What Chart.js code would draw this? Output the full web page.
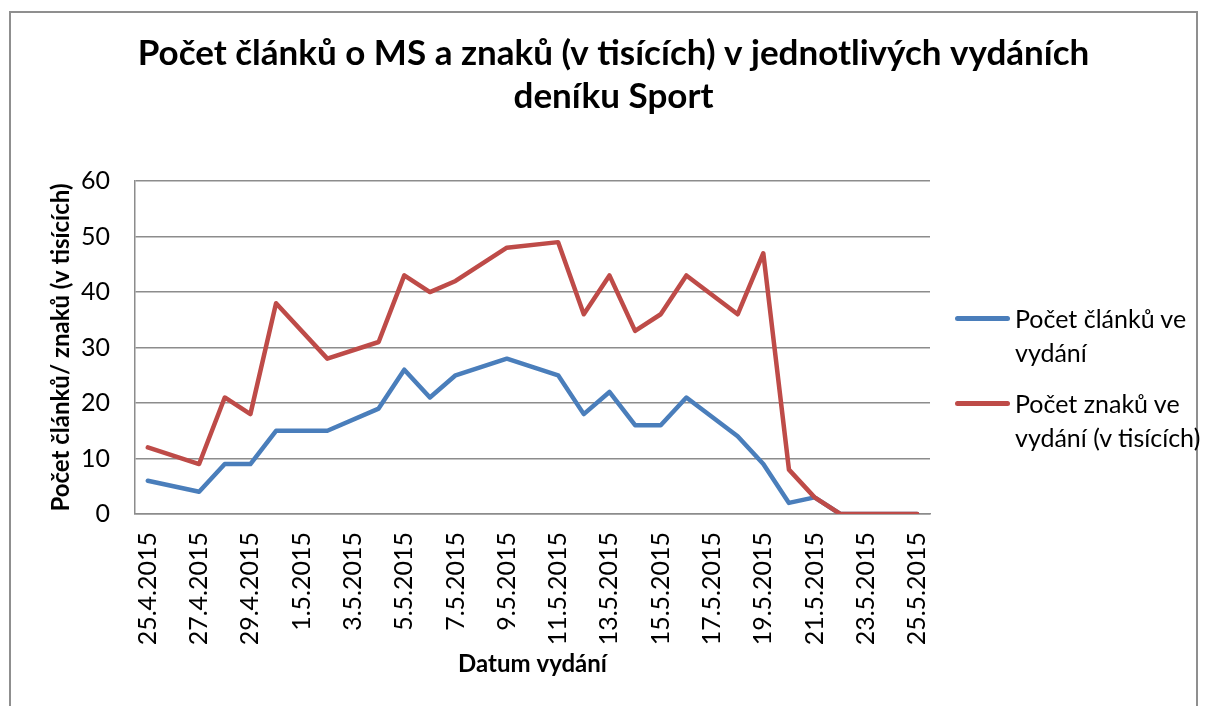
<!DOCTYPE html>
<html>
<head>
<meta charset="utf-8">
<script src="https://cdn.jsdelivr.net/npm/chart.js@4"></script>
<style>
  body { margin: 0; background: #fff; }
  #wrap { position: relative; width: 1207px; height: 706px; overflow: hidden; background: #fff; }
  #frame { position: absolute; left: 9px; top: 11px; width: 1189px; height: 720px; border: 2px solid #8f8f8f; box-sizing: border-box; }
  #chart { position: absolute; left: 0; top: 0; }
  #legend { position: absolute; left: 955px; top: 301px; font-family: Lato, sans-serif; font-size: 25px; color: #000; }
  .item { display: flex; align-items: flex-start; margin-bottom: 17px; }
  .swatch { width: 55px; height: 5px; border-radius: 3px; margin-top: 15px; margin-right: 5px; }
  .txt { line-height: 34px; white-space: nowrap; }
</style>
</head>
<body>
<div id="wrap">
  <div id="frame"></div>
  <canvas id="chart" width="1207" height="706"></canvas>
  <div id="legend"></div>
</div>
<script>
const dates = [
  "25.4.2015", "26.4.2015", "27.4.2015", "28.4.2015", "29.4.2015", "30.4.2015",
  "1.5.2015", "2.5.2015", "3.5.2015", "4.5.2015", "5.5.2015", "6.5.2015",
  "7.5.2015", "8.5.2015", "9.5.2015", "10.5.2015", "11.5.2015", "12.5.2015",
  "13.5.2015", "14.5.2015", "15.5.2015", "16.5.2015", "17.5.2015", "18.5.2015",
  "19.5.2015", "20.5.2015", "21.5.2015", "22.5.2015", "23.5.2015", "24.5.2015",
  "25.5.2015"
];

// null = no issue that day, line is drawn across
const clanky = [
  6, null, 4, 9, 9, 15,
  null, 15, null, 19, 26, 21,
  25, null, 28, null, 25, 18,
  22, 16, 16, 21, null, 14,
  9, 2, 3, 0, 0, 0,
  0
];

const znaky = [
  12, null, 9, 21, 18, 38,
  null, 28, null, 31, 43, 40,
  42, null, 48, null, 49, 36,
  43, 33, 36, 43, null, 36,
  47, 8, 3, 0, 0, 0,
  0
];

const seriesNames = [["Počet článků ve", "vydání"], ["Počet znaků ve", "vydání (v tisících)"]];
const colors = ["#4a7ebb", "#be4b48"];
const yTicks = [0, 10, 20, 30, 40, 50, 60];

const font = "Lato, sans-serif";
const gridGray = "#8c8c8c";

const ctx = document.getElementById("chart").getContext("2d");

const chart = new Chart(ctx, {
  type: "line",
  data: {
    labels: dates,
    datasets: [
      {
        label: seriesNames[0].join(" "),
        data: clanky,
        borderColor: colors[0],
        backgroundColor: colors[0],
        borderWidth: 4.5,
        pointRadius: 0,
        spanGaps: true,
        tension: 0,
        borderJoinStyle: "round",
        borderCapStyle: "round",
        order: 1
      },
      {
        label: seriesNames[1].join(" "),
        data: znaky,
        borderColor: colors[1],
        backgroundColor: colors[1],
        borderWidth: 4.5,
        pointRadius: 0,
        spanGaps: true,
        tension: 0,
        borderJoinStyle: "round",
        borderCapStyle: "round",
        order: 0
      }
    ]
  },
  options: {
    responsive: false,
    animation: false,
    layout: { padding: { left: 20, right: 0, top: 0, bottom: 0 } },
    plugins: {
      legend: { display: false },
      tooltip: { enabled: false },
      title: {
        display: true,
        text: ["Počet článků o MS a znaků (v tisících) v jednotlivých vydáních", "deníku Sport"],
        color: "#000",
        font: { family: font, size: 35, weight: "bold", lineHeight: 1.23 },
        padding: { top: 32, bottom: 63 }
      }
    },
    scales: {
      x: {
        type: "category",
        offset: true,
        grid: { display: false, drawTicks: false },
        border: { display: true, color: gridGray, width: 1.5 },
        ticks: {
          autoSkip: false,
          minRotation: 90,
          maxRotation: 90,
          padding: 18,
          color: "#000",
          font: { family: font, size: 25 },
          callback: (v, i) => (i % 2 === 0 ? dates[i] : "")
        },
        title: {
          display: true,
          text: "Datum vydání",
          color: "#000",
          font: { family: font, size: 24, weight: "bold" },
          padding: { top: 0, bottom: 27 }
        },
        afterFit: (s) => { s.height = 192; }
      },
      y: {
        min: 0,
        max: 60,
        afterBuildTicks: (s) => { s.ticks = yTicks.map((v) => ({ value: v })); },
        grid: { color: gridGray, lineWidth: 1.5, drawTicks: false },
        border: { display: true, color: gridGray, width: 1.5 },
        ticks: {
          padding: 25,
          color: "#000",
          font: { family: font, size: 25 }
        },
        title: {
          display: true,
          text: "Počet článků/ znaků (v tisících)",
          color: "#000",
          font: { family: font, size: 24, weight: "bold" },
          padding: { top: 27, bottom: 0 }
        },
        afterFit: (s) => { s.width = 115; }
      },
      // empty box on the right, keeps room for the legend
      gap: {
        position: "right",
        display: true,
        grid: { display: false, drawTicks: false },
        border: { display: false },
        ticks: { display: false },
        afterFit: (s) => { s.width = 277; }
      }
    }
  }
});

const legend = document.getElementById("legend");
seriesNames.forEach((name, i) => {
  const item = document.createElement("div");
  item.className = "item";
  const sw = document.createElement("div");
  sw.className = "swatch";
  sw.style.background = colors[i];
  const txt = document.createElement("div");
  txt.className = "txt";
  txt.innerHTML = name.join("<br>");
  item.appendChild(sw);
  item.appendChild(txt);
  legend.appendChild(item);
});
</script>
</body>
</html>
